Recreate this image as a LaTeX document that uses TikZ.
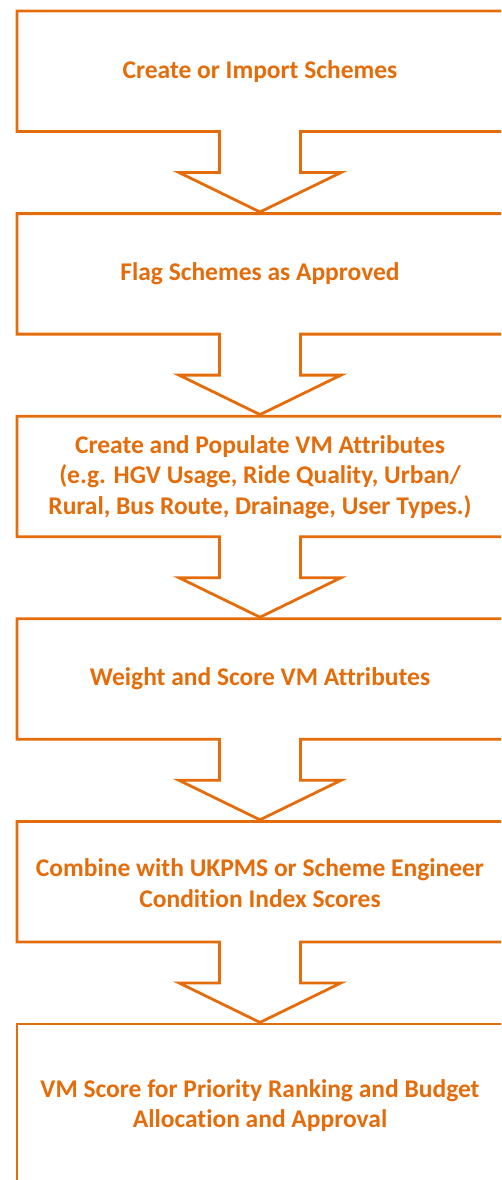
\documentclass[tikz,border=0pt]{standalone}
\usepackage{fontspec}
\setmainfont{Carlito}[Ligatures=NoCommon]
\definecolor{vmorange}{HTML}{E46C0A}
\tikzset{
  flowshape/.style={draw=vmorange, line width=2.8pt, line join=miter},
  flowtext/.style={text=vmorange, font=\fontsize{25.5}{30.5}\selectfont\bfseries, align=center, inner sep=0pt}
}
% #1 = top y (pt, positive downward)
\newcommand{\vmflowbox}[1]{%
  \draw[flowshape] (17pt,-#1pt) -- (503pt,-#1pt) -- (503pt,-#1pt-120.5pt)
    -- (300.5pt,-#1pt-120.5pt) -- (300.5pt,-#1pt-161.5pt) -- (341pt,-#1pt-161.5pt)
    -- (260pt,-#1pt-201pt) -- (179pt,-#1pt-161.5pt) -- (219.5pt,-#1pt-161.5pt)
    -- (219.5pt,-#1pt-120.5pt) -- (17pt,-#1pt-120.5pt) -- cycle;}
\begin{document}
\begin{tikzpicture}
\useasboundingbox (0,0) rectangle (501pt,-1180pt);
\clip (0,0) rectangle (501pt,-1180pt);
\vmflowbox{11}
\vmflowbox{213.6}
\vmflowbox{416.2}
\vmflowbox{618.8}
\vmflowbox{821.4}
\draw[flowshape] (17pt,-1024pt) -- (503pt,-1024pt) -- (503pt,-1190pt) -- (17pt,-1190pt) -- cycle;
\node[flowtext] (t1) at (260pt,-71.2pt) {Create or Import Schemes};
\node[flowtext] (t2) at (260pt,-273.8pt) {Flag Schemes as Approved};
\node[flowtext] (t3) at (260pt,-477pt) {Create and Populate VM Attributes\\(e.g. HGV Usage, Ride Quality, Urban/\\Rural, Bus Route, Drainage, User Types.)};
\node[flowtext] (t4) at (260pt,-679pt) {Weight and Score VM Attributes};
\node[flowtext] (t5) at (260pt,-883pt) {Combine with UKPMS or Scheme Engineer\\Condition Index Scores};
\node[flowtext] (t6) at (260pt,-1105.5pt) {VM Score for Priority Ranking and Budget\\Allocation and Approval};
\end{tikzpicture}
\end{document}
